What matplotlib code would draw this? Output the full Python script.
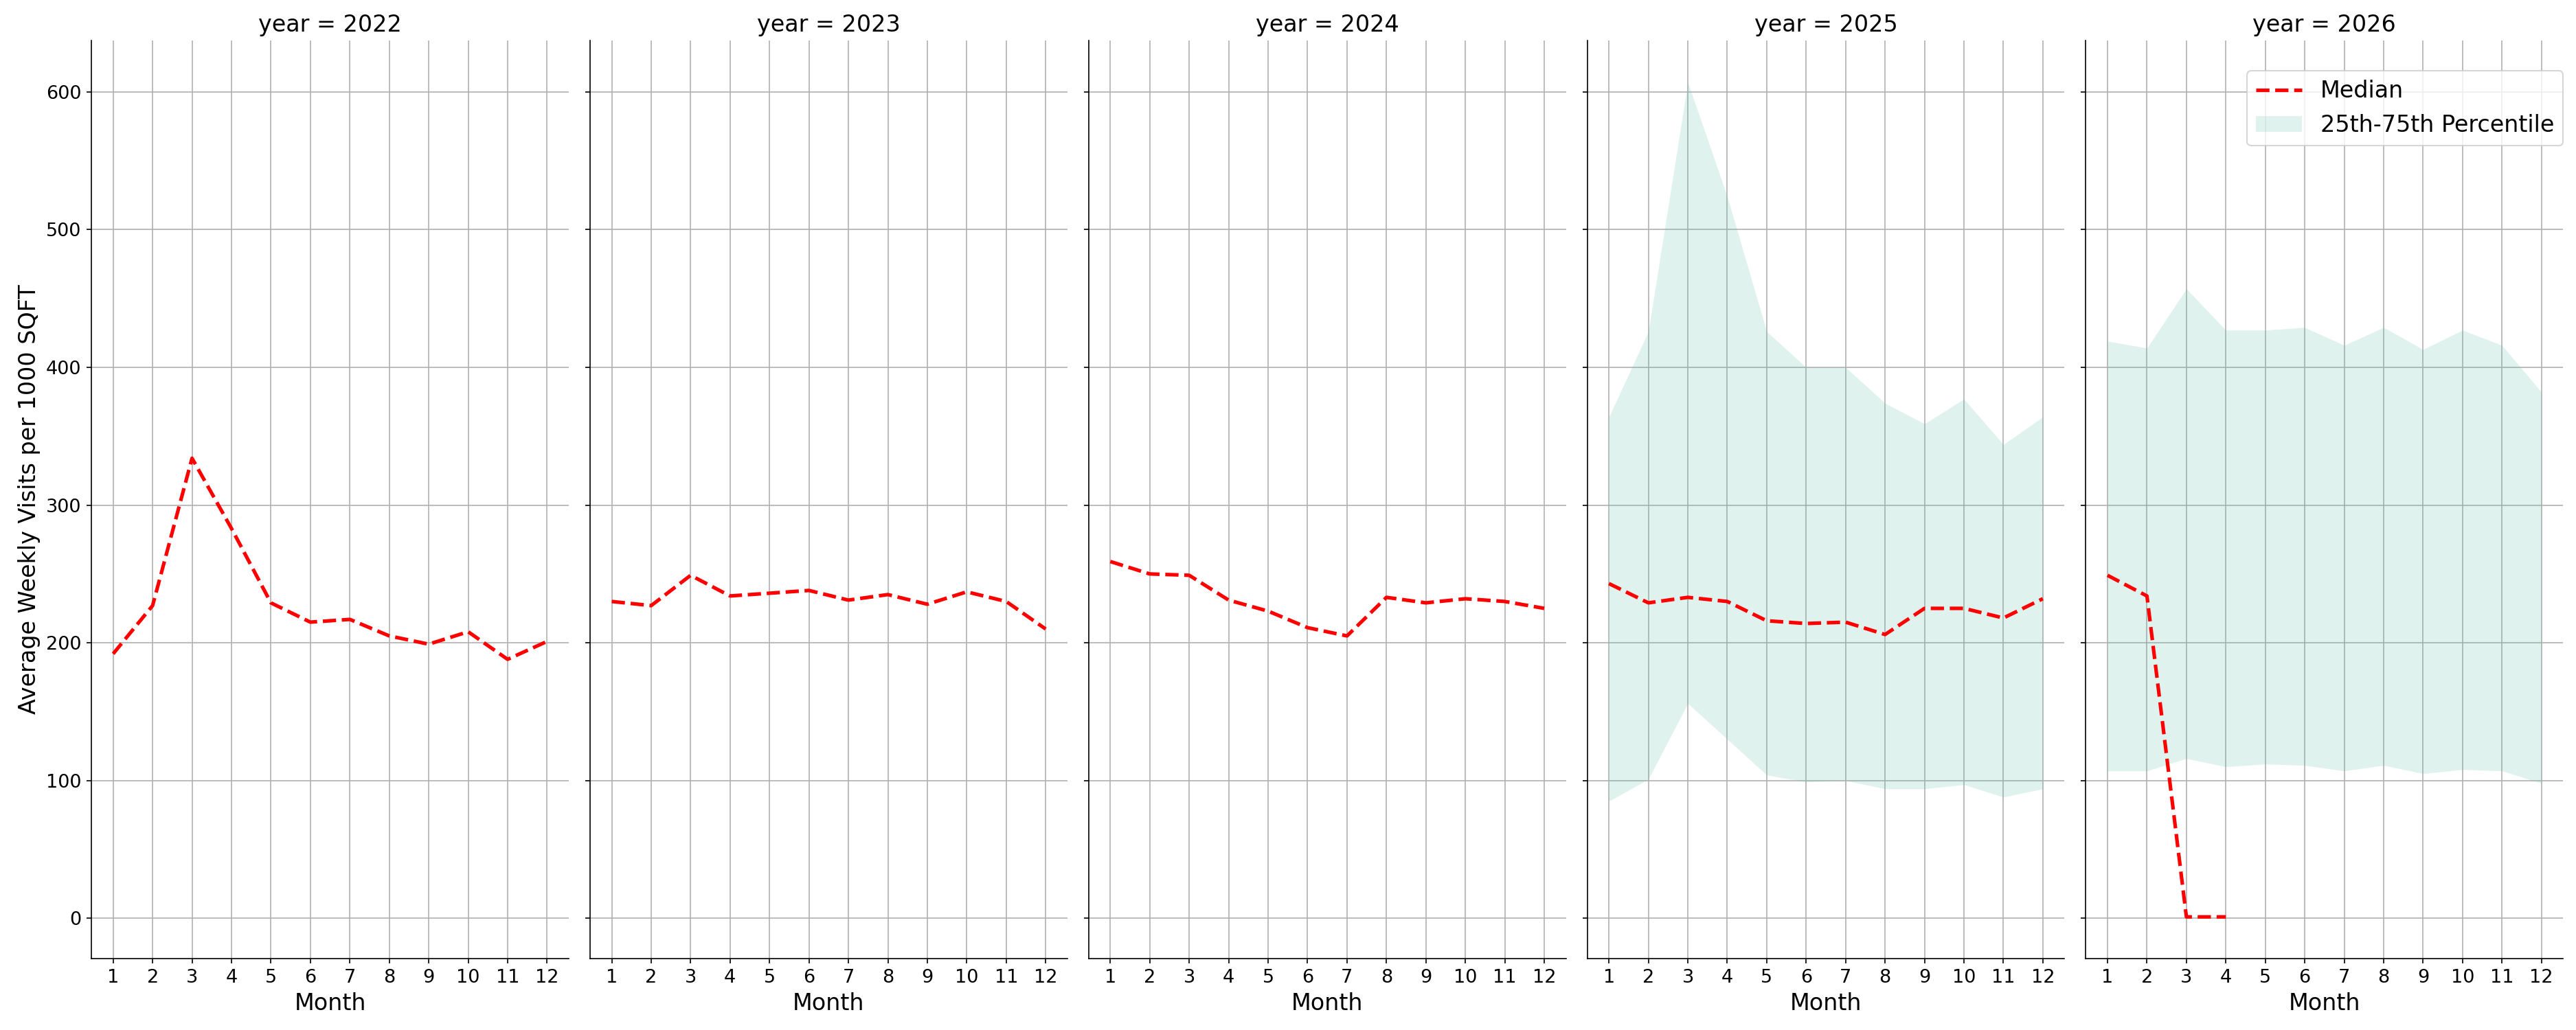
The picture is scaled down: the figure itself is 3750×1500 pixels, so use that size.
import numpy as np
import matplotlib
matplotlib.use("Agg")
import matplotlib.pyplot as plt

years = [2022, 2023, 2024, 2025, 2026]
months = list(range(1, 13))

# median weekly visits per 1000 sqft, by month
median_2022 = [192, 227, 334, 283, 229, 215, 217, 205, 199, 208, 188, 201]
median_2023 = [230, 227, 249, 234, 236, 238, 231, 235, 228, 237, 230, 210]
median_2024 = [259, 250, 249, 231, 223, 211, 205, 233, 229, 232, 230, 225]
median_2025 = [243, 229, 233, 230, 216, 214, 215, 206, 225, 225, 218, 232]
median_2026 = [249, 234, 1, 1]

# 25th / 75th percentile band (only available for 2025, 2026)
p25_2025 = [85, 101, 156, 130, 104, 99, 100, 94, 94, 97, 88, 94]
p75_2025 = [364, 426, 607, 524, 426, 400, 400, 374, 359, 377, 344, 364]
p25_2026 = [107, 107, 116, 110, 112, 111, 107, 111, 105, 108, 107, 98]
p75_2026 = [419, 414, 457, 427, 427, 429, 416, 429, 413, 427, 416, 382]

medians = {2022: median_2022, 2023: median_2023, 2024: median_2024,
           2025: median_2025, 2026: median_2026}
bands = {2025: (p25_2025, p75_2025), 2026: (p25_2026, p75_2026)}

fig, axes = plt.subplots(1, 5, sharey=True, figsize=(25, 10), dpi=150)
fig.subplots_adjust(left=0.0355, right=0.995, top=0.9607, bottom=0.0693, wspace=0.0446)

for ax, yr in zip(axes, years):
    if yr in bands:
        lo, hi = bands[yr]
        ax.fill_between(months, lo, hi, color='#66c2a5', alpha=0.2, linewidth=0,
                        label='25th-75th Percentile')
    med = medians[yr]
    ax.plot(months[:len(med)], med, color='red', linestyle='--', linewidth=2.5,
            label='Median')
    ax.set_title('year = %d' % yr, fontsize=16)
    ax.set_xlabel('Month', fontsize=16)
    ax.set_xticks(months)
    ax.tick_params(labelsize=13)
    ax.grid(True)
    ax.set_axisbelow(True)
    ax.spines['top'].set_visible(False)
    ax.spines['right'].set_visible(False)

axes[0].set_ylabel('Average Weekly Visits per 1000 SQFT', fontsize=16)
axes[0].set_yticks([0, 100, 200, 300, 400, 500, 600])

h, l = axes[-1].get_legend_handles_labels()
order = [l.index('Median'), l.index('25th-75th Percentile')]
axes[-1].legend([h[i] for i in order], [l[i] for i in order], loc='upper right',
                bbox_to_anchor=(1.0, 0.967), borderaxespad=0, fontsize=16)

fig.savefig('out.png')
